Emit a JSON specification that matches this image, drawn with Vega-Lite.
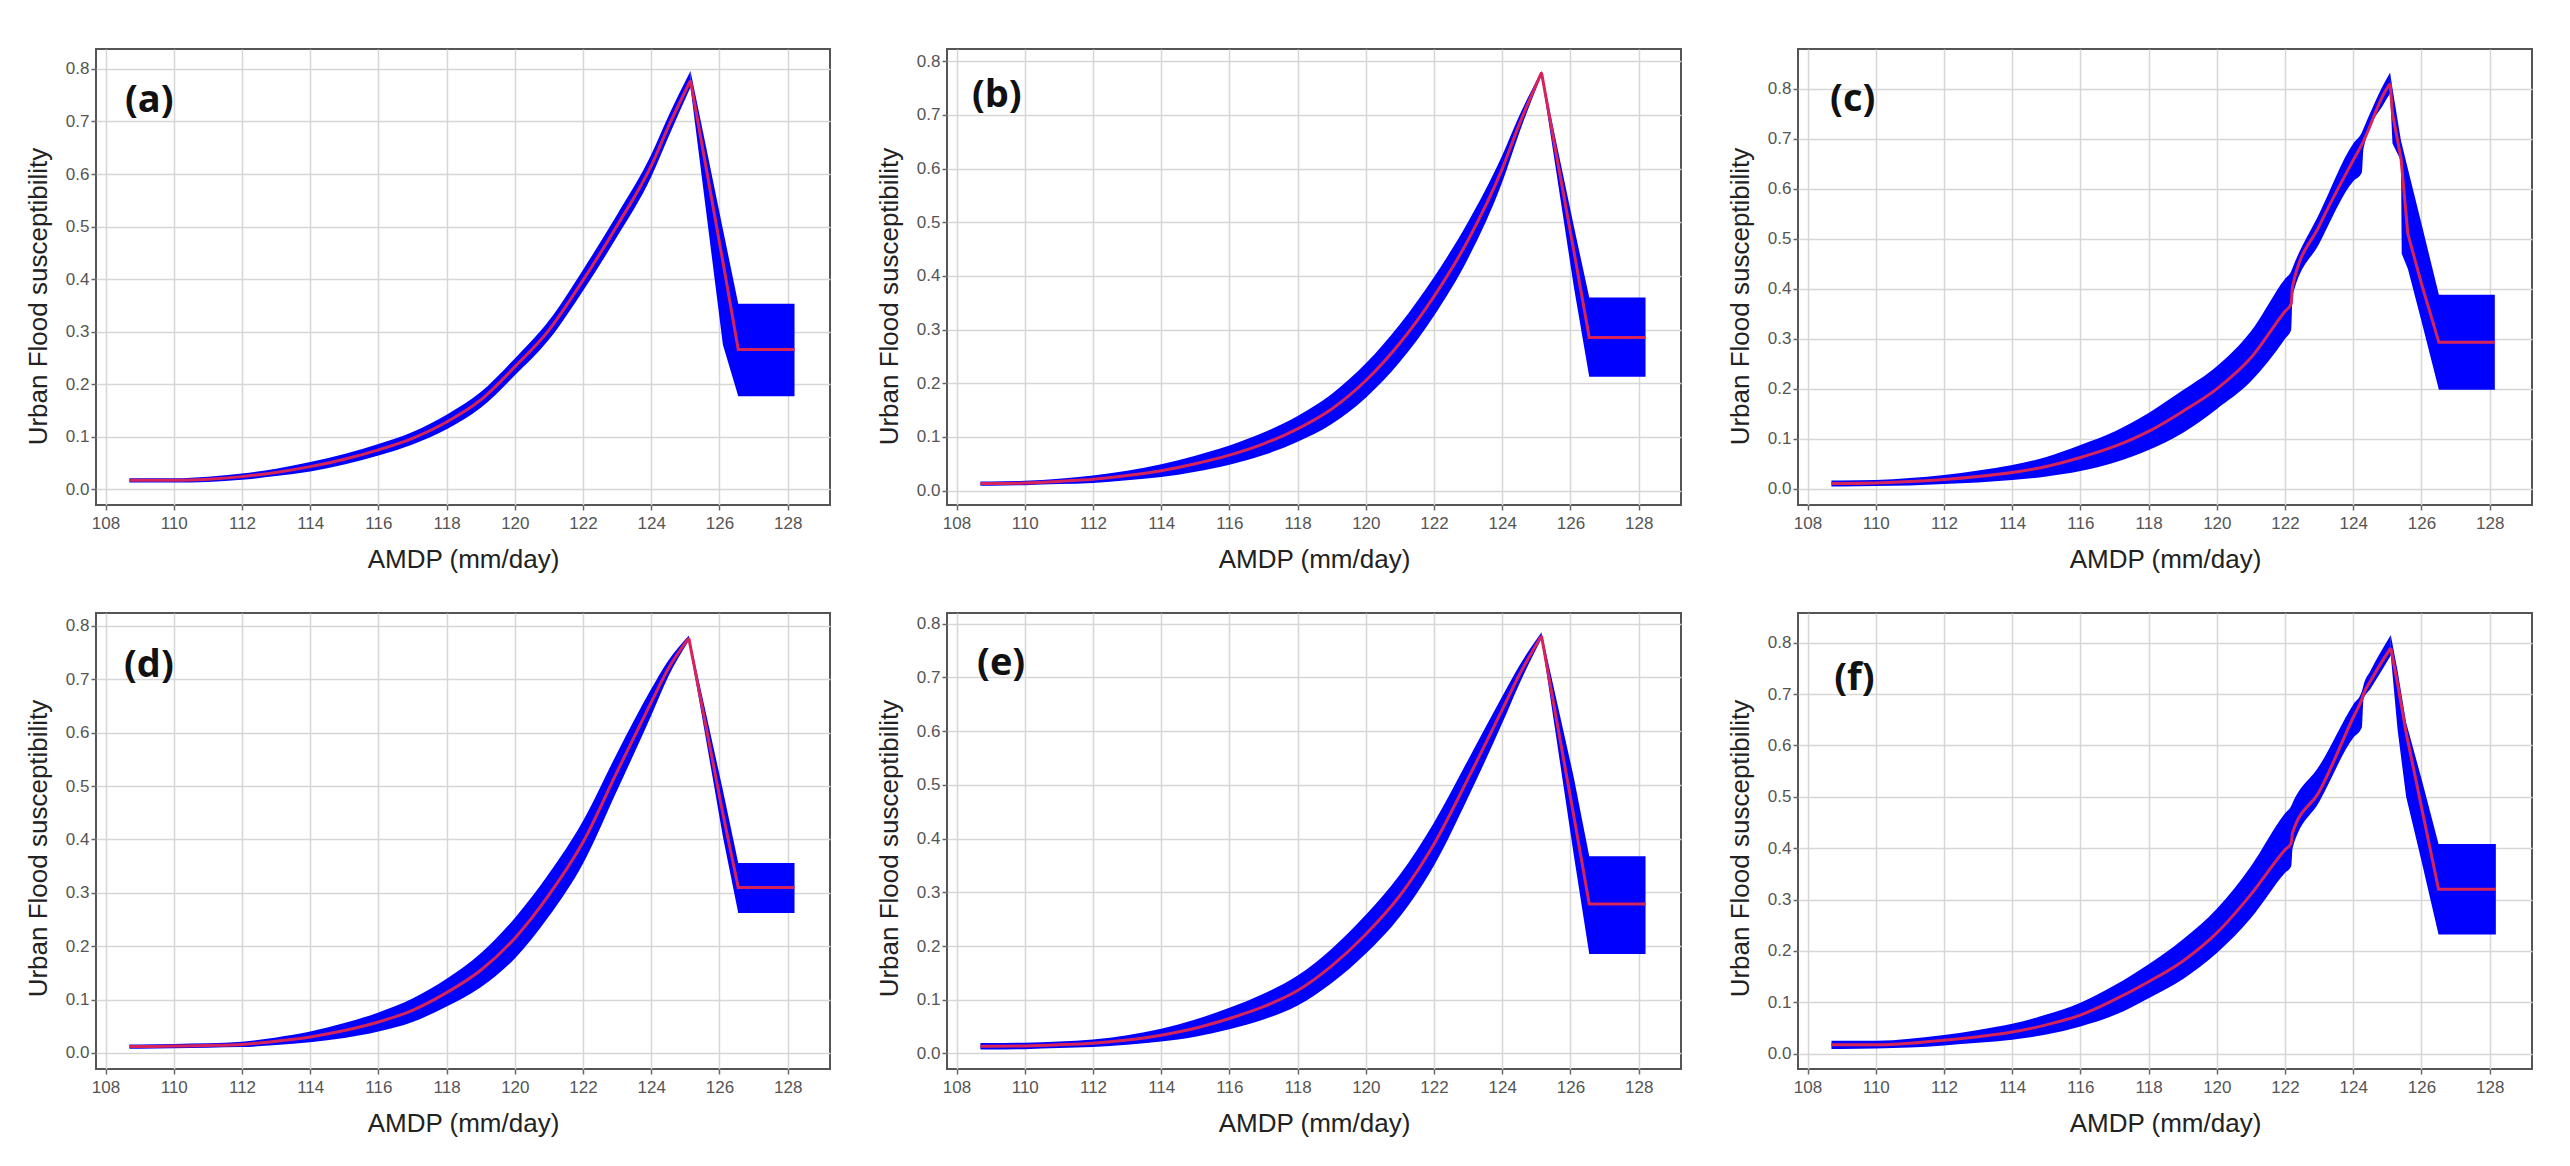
{
  "$schema": "https://vega.github.io/schema/vega-lite/v6.json",
  "background": "white",
  "padding": {"left": 24, "top": 48, "right": 5, "bottom": 5},
  "config": {
    "view": {"stroke": "#555555", "strokeWidth": 2},
    "axis": {"gridColor": "#d6d6d6", "gridWidth": 1.5, "domain": false, "tickColor": "#666666", "tickSize": 5, "tickWidth": 1.5, "labelColor": "#555555", "labelFont": "Liberation Sans", "labelFontSize": 17, "titleFont": "Liberation Sans", "titleFontSize": 26, "titleFontWeight": "normal", "titleColor": "#222222"},
    "axisX": {"labelPadding": 5, "titlePadding": 15},
    "axisY": {"labelPadding": 2, "titlePadding": 14},
    "area": {"color": "#0000ff"},
    "line": {"color": "#d6245a", "strokeWidth": 3},
    "text": {"font": "Open Sans", "fontWeight": "bold", "fontSize": 38, "align": "left", "baseline": "middle", "color": "#111111"}
  },
  "data": {"values": [
    {"p":"a","x":108.7,"lo":0.013,"mid":0.017,"hi":0.021},
    {"p":"a","x":109,"lo":0.013,"mid":0.017,"hi":0.021},
    {"p":"a","x":110,"lo":0.013,"mid":0.017,"hi":0.021},
    {"p":"a","x":111,"lo":0.014,"mid":0.019,"hi":0.024},
    {"p":"a","x":112,"lo":0.018,"mid":0.024,"hi":0.030},
    {"p":"a","x":113,"lo":0.025,"mid":0.032,"hi":0.039},
    {"p":"a","x":114,"lo":0.034,"mid":0.043,"hi":0.052},
    {"p":"a","x":115,"lo":0.047,"mid":0.057,"hi":0.067},
    {"p":"a","x":116,"lo":0.064,"mid":0.075,"hi":0.086},
    {"p":"a","x":117,"lo":0.085,"mid":0.097,"hi":0.109},
    {"p":"a","x":118,"lo":0.114,"mid":0.128,"hi":0.142},
    {"p":"a","x":119,"lo":0.155,"mid":0.170,"hi":0.185},
    {"p":"a","x":120,"lo":0.217,"mid":0.233,"hi":0.249},
    {"p":"a","x":121,"lo":0.285,"mid":0.303,"hi":0.321},
    {"p":"a","x":122,"lo":0.378,"mid":0.398,"hi":0.418},
    {"p":"a","x":123,"lo":0.481,"mid":0.502,"hi":0.523},
    {"p":"a","x":124,"lo":0.595,"mid":0.616,"hi":0.637},
    {"p":"a","x":124.5,"lo":0.670,"mid":0.690,"hi":0.710},
    {"p":"a","x":125.15,"lo":0.765,"mid":0.778,"hi":0.796},
    {"p":"a","x":125.6,"lo":0.533,"mid":0.615,"hi":0.654},
    {"p":"a","x":126.1,"lo":0.275,"mid":0.433,"hi":0.495},
    {"p":"a","x":126.55,"lo":0.177,"mid":0.266,"hi":0.353},
    {"p":"a","x":128.2,"lo":0.177,"mid":0.266,"hi":0.353},

    {"p":"b","x":108.7,"lo":0.009,"mid":0.013,"hi":0.017},
    {"p":"b","x":109,"lo":0.009,"mid":0.013,"hi":0.017},
    {"p":"b","x":110,"lo":0.010,"mid":0.014,"hi":0.018},
    {"p":"b","x":111,"lo":0.012,"mid":0.017,"hi":0.022},
    {"p":"b","x":112,"lo":0.014,"mid":0.021,"hi":0.028},
    {"p":"b","x":113,"lo":0.019,"mid":0.028,"hi":0.037},
    {"p":"b","x":114,"lo":0.025,"mid":0.037,"hi":0.049},
    {"p":"b","x":115,"lo":0.035,"mid":0.050,"hi":0.065},
    {"p":"b","x":116,"lo":0.048,"mid":0.066,"hi":0.084},
    {"p":"b","x":117,"lo":0.066,"mid":0.087,"hi":0.108},
    {"p":"b","x":118,"lo":0.091,"mid":0.115,"hi":0.139},
    {"p":"b","x":119,"lo":0.124,"mid":0.152,"hi":0.180},
    {"p":"b","x":120,"lo":0.173,"mid":0.205,"hi":0.237},
    {"p":"b","x":121,"lo":0.240,"mid":0.275,"hi":0.310},
    {"p":"b","x":122,"lo":0.326,"mid":0.362,"hi":0.398},
    {"p":"b","x":123,"lo":0.433,"mid":0.467,"hi":0.501},
    {"p":"b","x":124,"lo":0.575,"mid":0.600,"hi":0.625},
    {"p":"b","x":124.5,"lo":0.667,"mid":0.683,"hi":0.699},
    {"p":"b","x":125.15,"lo":0.774,"mid":0.779,"hi":0.782},
    {"p":"b","x":125.6,"lo":0.587,"mid":0.621,"hi":0.644},
    {"p":"b","x":126.1,"lo":0.379,"mid":0.446,"hi":0.492},
    {"p":"b","x":126.55,"lo":0.212,"mid":0.285,"hi":0.360},
    {"p":"b","x":128.2,"lo":0.212,"mid":0.285,"hi":0.360},

    {"p":"c","x":108.7,"lo":0.005,"mid":0.011,"hi":0.017},
    {"p":"c","x":109,"lo":0.005,"mid":0.011,"hi":0.017},
    {"p":"c","x":110,"lo":0.006,"mid":0.012,"hi":0.018},
    {"p":"c","x":111,"lo":0.007,"mid":0.015,"hi":0.022},
    {"p":"c","x":112,"lo":0.010,"mid":0.019,"hi":0.028},
    {"p":"c","x":113,"lo":0.013,"mid":0.025,"hi":0.037},
    {"p":"c","x":114,"lo":0.018,"mid":0.033,"hi":0.048},
    {"p":"c","x":115,"lo":0.025,"mid":0.045,"hi":0.064},
    {"p":"c","x":116,"lo":0.036,"mid":0.063,"hi":0.088},
    {"p":"c","x":117,"lo":0.053,"mid":0.085,"hi":0.115},
    {"p":"c","x":118,"lo":0.078,"mid":0.115,"hi":0.152},
    {"p":"c","x":119,"lo":0.112,"mid":0.155,"hi":0.197},
    {"p":"c","x":120,"lo":0.160,"mid":0.200,"hi":0.245},
    {"p":"c","x":121,"lo":0.215,"mid":0.262,"hi":0.315},
    {"p":"c","x":122,"lo":0.300,"mid":0.355,"hi":0.420},
    {"p":"c","x":122.18,"lo":0.318,"mid":0.370,"hi":0.435},
    {"p":"c","x":122.22,"lo":0.385,"mid":0.405,"hi":0.442},
    {"p":"c","x":123,"lo":0.490,"mid":0.525,"hi":0.550},
    {"p":"c","x":124,"lo":0.615,"mid":0.657,"hi":0.690},
    {"p":"c","x":124.25,"lo":0.632,"mid":0.688,"hi":0.712},
    {"p":"c","x":124.3,"lo":0.680,"mid":0.695,"hi":0.720},
    {"p":"c","x":124.9,"lo":0.770,"mid":0.790,"hi":0.810},
    {"p":"c","x":125.08,"lo":0.790,"mid":0.810,"hi":0.832},
    {"p":"c","x":125.15,"lo":0.690,"mid":0.750,"hi":0.800},
    {"p":"c","x":125.4,"lo":0.655,"mid":0.660,"hi":0.695},
    {"p":"c","x":125.42,"lo":0.470,"mid":0.645,"hi":0.690},
    {"p":"c","x":125.6,"lo":0.440,"mid":0.510,"hi":0.640},
    {"p":"c","x":126.0,"lo":0.335,"mid":0.410,"hi":0.530},
    {"p":"c","x":126.51,"lo":0.198,"mid":0.293,"hi":0.388},
    {"p":"c","x":128.15,"lo":0.198,"mid":0.293,"hi":0.388},

    {"p":"d","x":108.7,"lo":0.008,"mid":0.012,"hi":0.016},
    {"p":"d","x":109,"lo":0.008,"mid":0.012,"hi":0.016},
    {"p":"d","x":110,"lo":0.009,"mid":0.013,"hi":0.017},
    {"p":"d","x":111,"lo":0.010,"mid":0.014,"hi":0.018},
    {"p":"d","x":112,"lo":0.011,"mid":0.016,"hi":0.021},
    {"p":"d","x":113,"lo":0.015,"mid":0.022,"hi":0.029},
    {"p":"d","x":114,"lo":0.020,"mid":0.030,"hi":0.040},
    {"p":"d","x":115,"lo":0.028,"mid":0.042,"hi":0.056},
    {"p":"d","x":116,"lo":0.040,"mid":0.058,"hi":0.076},
    {"p":"d","x":117,"lo":0.058,"mid":0.080,"hi":0.102},
    {"p":"d","x":118,"lo":0.087,"mid":0.113,"hi":0.139},
    {"p":"d","x":119,"lo":0.123,"mid":0.155,"hi":0.187},
    {"p":"d","x":120,"lo":0.177,"mid":0.215,"hi":0.253},
    {"p":"d","x":121,"lo":0.256,"mid":0.296,"hi":0.336},
    {"p":"d","x":122,"lo":0.355,"mid":0.395,"hi":0.435},
    {"p":"d","x":123,"lo":0.492,"mid":0.527,"hi":0.562},
    {"p":"d","x":124,"lo":0.632,"mid":0.657,"hi":0.682},
    {"p":"d","x":124.5,"lo":0.705,"mid":0.720,"hi":0.735},
    {"p":"d","x":125.1,"lo":0.772,"mid":0.777,"hi":0.782},
    {"p":"d","x":125.6,"lo":0.589,"mid":0.613,"hi":0.637},
    {"p":"d","x":126.1,"lo":0.405,"mid":0.448,"hi":0.492},
    {"p":"d","x":126.55,"lo":0.262,"mid":0.310,"hi":0.356},
    {"p":"d","x":128.2,"lo":0.262,"mid":0.310,"hi":0.356},

    {"p":"e","x":108.7,"lo":0.0075,"mid":0.0135,"hi":0.0195},
    {"p":"e","x":109,"lo":0.0075,"mid":0.0135,"hi":0.0195},
    {"p":"e","x":110,"lo":0.008,"mid":0.014,"hi":0.020},
    {"p":"e","x":111,"lo":0.010,"mid":0.016,"hi":0.022},
    {"p":"e","x":112,"lo":0.012,"mid":0.019,"hi":0.026},
    {"p":"e","x":113,"lo":0.016,"mid":0.025,"hi":0.034},
    {"p":"e","x":114,"lo":0.022,"mid":0.034,"hi":0.046},
    {"p":"e","x":115,"lo":0.031,"mid":0.047,"hi":0.063},
    {"p":"e","x":116,"lo":0.045,"mid":0.065,"hi":0.085},
    {"p":"e","x":117,"lo":0.063,"mid":0.087,"hi":0.111},
    {"p":"e","x":118,"lo":0.089,"mid":0.117,"hi":0.145},
    {"p":"e","x":119,"lo":0.131,"mid":0.163,"hi":0.195},
    {"p":"e","x":120,"lo":0.186,"mid":0.222,"hi":0.258},
    {"p":"e","x":121,"lo":0.255,"mid":0.294,"hi":0.333},
    {"p":"e","x":122,"lo":0.350,"mid":0.390,"hi":0.430},
    {"p":"e","x":123,"lo":0.477,"mid":0.512,"hi":0.547},
    {"p":"e","x":124,"lo":0.615,"mid":0.640,"hi":0.665},
    {"p":"e","x":124.5,"lo":0.688,"mid":0.705,"hi":0.722},
    {"p":"e","x":125.15,"lo":0.772,"mid":0.777,"hi":0.784},
    {"p":"e","x":125.6,"lo":0.581,"mid":0.618,"hi":0.655},
    {"p":"e","x":126.1,"lo":0.368,"mid":0.441,"hi":0.513},
    {"p":"e","x":126.55,"lo":0.185,"mid":0.278,"hi":0.367},
    {"p":"e","x":128.2,"lo":0.185,"mid":0.278,"hi":0.367},

    {"p":"f","x":108.7,"lo":0.009,"mid":0.017,"hi":0.025},
    {"p":"f","x":109,"lo":0.009,"mid":0.017,"hi":0.025},
    {"p":"f","x":110,"lo":0.010,"mid":0.017,"hi":0.025},
    {"p":"f","x":111,"lo":0.012,"mid":0.020,"hi":0.029},
    {"p":"f","x":112,"lo":0.016,"mid":0.026,"hi":0.036},
    {"p":"f","x":113,"lo":0.021,"mid":0.033,"hi":0.046},
    {"p":"f","x":114,"lo":0.027,"mid":0.042,"hi":0.058},
    {"p":"f","x":115,"lo":0.037,"mid":0.056,"hi":0.076},
    {"p":"f","x":116,"lo":0.053,"mid":0.075,"hi":0.099},
    {"p":"f","x":117,"lo":0.075,"mid":0.105,"hi":0.133},
    {"p":"f","x":118,"lo":0.108,"mid":0.140,"hi":0.174},
    {"p":"f","x":119,"lo":0.145,"mid":0.180,"hi":0.222},
    {"p":"f","x":120,"lo":0.196,"mid":0.235,"hi":0.282},
    {"p":"f","x":121,"lo":0.264,"mid":0.310,"hi":0.365},
    {"p":"f","x":122,"lo":0.352,"mid":0.397,"hi":0.468},
    {"p":"f","x":122.18,"lo":0.365,"mid":0.410,"hi":0.482},
    {"p":"f","x":122.22,"lo":0.400,"mid":0.430,"hi":0.488},
    {"p":"f","x":123,"lo":0.490,"mid":0.510,"hi":0.560},
    {"p":"f","x":124,"lo":0.615,"mid":0.655,"hi":0.680},
    {"p":"f","x":124.25,"lo":0.635,"mid":0.690,"hi":0.705},
    {"p":"f","x":124.3,"lo":0.690,"mid":0.700,"hi":0.718},
    {"p":"f","x":124.5,"lo":0.710,"mid":0.725,"hi":0.745},
    {"p":"f","x":125.1,"lo":0.775,"mid":0.790,"hi":0.815},
    {"p":"f","x":125.3,"lo":0.630,"mid":0.720,"hi":0.745},
    {"p":"f","x":125.55,"lo":0.500,"mid":0.625,"hi":0.645},
    {"p":"f","x":126.0,"lo":0.375,"mid":0.480,"hi":0.535},
    {"p":"f","x":126.5,"lo":0.232,"mid":0.320,"hi":0.408},
    {"p":"f","x":128.18,"lo":0.232,"mid":0.320,"hi":0.408}
  ]},
  "spacing": 39,
  "vconcat": [
    {"spacing": 44, "hconcat": [
      {"width": 734, "height": 456, "layer": [
        {"transform": [{"filter": "datum.p === 'a' && datum.x <= 125.15"}], "mark": {"type": "area", "interpolate": "monotone"},
         "encoding": {"x": {"field": "x", "type": "quantitative", "scale": {"domain": [107.72, 129.24], "nice": false, "zero": false}, "axis": {"title": "AMDP (mm/day)", "values": [108,110,112,114,116,118,120,122,124,126,128], "format": "d"}},
                      "y": {"field": "lo", "type": "quantitative", "scale": {"domain": [-0.030, 0.838], "nice": false, "zero": false}, "axis": {"title": "Urban Flood susceptibility", "values": [0,0.1,0.2,0.3,0.4,0.5,0.6,0.7,0.8], "format": ".1f", "titleY": 247}},
                      "y2": {"field": "hi"}}},
        {"transform": [{"filter": "datum.p === 'a' && datum.x >= 125.15"}], "mark": {"type": "area"},
         "encoding": {"x": {"field": "x", "type": "quantitative"}, "y": {"field": "lo", "type": "quantitative"}, "y2": {"field": "hi"}}},
        {"transform": [{"filter": "datum.p === 'a' && datum.x <= 125.15"}], "mark": {"type": "line", "interpolate": "monotone"},
         "encoding": {"x": {"field": "x", "type": "quantitative"}, "y": {"field": "mid", "type": "quantitative"}}},
        {"transform": [{"filter": "datum.p === 'a' && datum.x >= 125.15"}], "mark": {"type": "line"},
         "encoding": {"x": {"field": "x", "type": "quantitative"}, "y": {"field": "mid", "type": "quantitative"}}},
        {"data": {"values": [{"label": "(a)"}]}, "mark": {"type": "text"},
         "encoding": {"x": {"datum": 108.57, "type": "quantitative"}, "y": {"datum": 0.739, "type": "quantitative"}, "text": {"field": "label"}}}
      ]},
      {"width": 734, "height": 456, "layer": [
        {"transform": [{"filter": "datum.p === 'b' && datum.x <= 125.15"}], "mark": {"type": "area", "interpolate": "monotone"},
         "encoding": {"x": {"field": "x", "type": "quantitative", "scale": {"domain": [107.72, 129.24], "nice": false, "zero": false}, "axis": {"title": "AMDP (mm/day)", "values": [108,110,112,114,116,118,120,122,124,126,128], "format": "d"}},
                      "y": {"field": "lo", "type": "quantitative", "scale": {"domain": [-0.027, 0.823], "nice": false, "zero": false}, "axis": {"title": "Urban Flood susceptibility", "values": [0,0.1,0.2,0.3,0.4,0.5,0.6,0.7,0.8], "format": ".1f", "titleY": 247}},
                      "y2": {"field": "hi"}}},
        {"transform": [{"filter": "datum.p === 'b' && datum.x >= 125.15"}], "mark": {"type": "area"},
         "encoding": {"x": {"field": "x", "type": "quantitative"}, "y": {"field": "lo", "type": "quantitative"}, "y2": {"field": "hi"}}},
        {"transform": [{"filter": "datum.p === 'b' && datum.x <= 125.15"}], "mark": {"type": "line", "interpolate": "monotone"},
         "encoding": {"x": {"field": "x", "type": "quantitative"}, "y": {"field": "mid", "type": "quantitative"}}},
        {"transform": [{"filter": "datum.p === 'b' && datum.x >= 125.15"}], "mark": {"type": "line"},
         "encoding": {"x": {"field": "x", "type": "quantitative"}, "y": {"field": "mid", "type": "quantitative"}}},
        {"data": {"values": [{"label": "(b)"}]}, "mark": {"type": "text"},
         "encoding": {"x": {"datum": 108.45, "type": "quantitative"}, "y": {"datum": 0.735, "type": "quantitative"}, "text": {"field": "label"}}}
      ]},
      {"width": 734, "height": 456, "layer": [
        {"transform": [{"filter": "datum.p === 'c' && datum.x <= 125.08"}], "mark": {"type": "area", "interpolate": "monotone"},
         "encoding": {"x": {"field": "x", "type": "quantitative", "scale": {"domain": [107.72, 129.24], "nice": false, "zero": false}, "axis": {"title": "AMDP (mm/day)", "values": [108,110,112,114,116,118,120,122,124,126,128], "format": "d"}},
                      "y": {"field": "lo", "type": "quantitative", "scale": {"domain": [-0.032, 0.879], "nice": false, "zero": false}, "axis": {"title": "Urban Flood susceptibility", "values": [0,0.1,0.2,0.3,0.4,0.5,0.6,0.7,0.8], "format": ".1f", "titleY": 247}},
                      "y2": {"field": "hi"}}},
        {"transform": [{"filter": "datum.p === 'c' && datum.x >= 125.08"}], "mark": {"type": "area"},
         "encoding": {"x": {"field": "x", "type": "quantitative"}, "y": {"field": "lo", "type": "quantitative"}, "y2": {"field": "hi"}}},
        {"transform": [{"filter": "datum.p === 'c' && datum.x <= 125.08"}], "mark": {"type": "line", "interpolate": "monotone"},
         "encoding": {"x": {"field": "x", "type": "quantitative"}, "y": {"field": "mid", "type": "quantitative"}}},
        {"transform": [{"filter": "datum.p === 'c' && datum.x >= 125.08"}], "mark": {"type": "line"},
         "encoding": {"x": {"field": "x", "type": "quantitative"}, "y": {"field": "mid", "type": "quantitative"}}},
        {"data": {"values": [{"label": "(c)"}]}, "mark": {"type": "text"},
         "encoding": {"x": {"datum": 108.66, "type": "quantitative"}, "y": {"datum": 0.778, "type": "quantitative"}, "text": {"field": "label"}}}
      ]}
    ]},
    {"spacing": 44, "hconcat": [
      {"width": 734, "height": 456, "layer": [
        {"transform": [{"filter": "datum.p === 'd' && datum.x <= 125.1"}], "mark": {"type": "area", "interpolate": "monotone"},
         "encoding": {"x": {"field": "x", "type": "quantitative", "scale": {"domain": [107.72, 129.24], "nice": false, "zero": false}, "axis": {"title": "AMDP (mm/day)", "values": [108,110,112,114,116,118,120,122,124,126,128], "format": "d"}},
                      "y": {"field": "lo", "type": "quantitative", "scale": {"domain": [-0.030, 0.824], "nice": false, "zero": false}, "axis": {"title": "Urban Flood susceptibility", "values": [0,0.1,0.2,0.3,0.4,0.5,0.6,0.7,0.8], "format": ".1f", "titleY": 235}},
                      "y2": {"field": "hi"}}},
        {"transform": [{"filter": "datum.p === 'd' && datum.x >= 125.1"}], "mark": {"type": "area"},
         "encoding": {"x": {"field": "x", "type": "quantitative"}, "y": {"field": "lo", "type": "quantitative"}, "y2": {"field": "hi"}}},
        {"transform": [{"filter": "datum.p === 'd' && datum.x <= 125.1"}], "mark": {"type": "line", "interpolate": "monotone"},
         "encoding": {"x": {"field": "x", "type": "quantitative"}, "y": {"field": "mid", "type": "quantitative"}}},
        {"transform": [{"filter": "datum.p === 'd' && datum.x >= 125.1"}], "mark": {"type": "line"},
         "encoding": {"x": {"field": "x", "type": "quantitative"}, "y": {"field": "mid", "type": "quantitative"}}},
        {"data": {"values": [{"label": "(d)"}]}, "mark": {"type": "text"},
         "encoding": {"x": {"datum": 108.54, "type": "quantitative"}, "y": {"datum": 0.725, "type": "quantitative"}, "text": {"field": "label"}}}
      ]},
      {"width": 734, "height": 456, "layer": [
        {"transform": [{"filter": "datum.p === 'e' && datum.x <= 125.15"}], "mark": {"type": "area", "interpolate": "monotone"},
         "encoding": {"x": {"field": "x", "type": "quantitative", "scale": {"domain": [107.72, 129.24], "nice": false, "zero": false}, "axis": {"title": "AMDP (mm/day)", "values": [108,110,112,114,116,118,120,122,124,126,128], "format": "d"}},
                      "y": {"field": "lo", "type": "quantitative", "scale": {"domain": [-0.029, 0.820], "nice": false, "zero": false}, "axis": {"title": "Urban Flood susceptibility", "values": [0,0.1,0.2,0.3,0.4,0.5,0.6,0.7,0.8], "format": ".1f", "titleY": 235}},
                      "y2": {"field": "hi"}}},
        {"transform": [{"filter": "datum.p === 'e' && datum.x >= 125.15"}], "mark": {"type": "area"},
         "encoding": {"x": {"field": "x", "type": "quantitative"}, "y": {"field": "lo", "type": "quantitative"}, "y2": {"field": "hi"}}},
        {"transform": [{"filter": "datum.p === 'e' && datum.x <= 125.15"}], "mark": {"type": "line", "interpolate": "monotone"},
         "encoding": {"x": {"field": "x", "type": "quantitative"}, "y": {"field": "mid", "type": "quantitative"}}},
        {"transform": [{"filter": "datum.p === 'e' && datum.x >= 125.15"}], "mark": {"type": "line"},
         "encoding": {"x": {"field": "x", "type": "quantitative"}, "y": {"field": "mid", "type": "quantitative"}}},
        {"data": {"values": [{"label": "(e)"}]}, "mark": {"type": "text"},
         "encoding": {"x": {"datum": 108.6, "type": "quantitative"}, "y": {"datum": 0.725, "type": "quantitative"}, "text": {"field": "label"}}}
      ]},
      {"width": 734, "height": 456, "layer": [
        {"transform": [{"filter": "datum.p === 'f' && datum.x <= 125.1"}], "mark": {"type": "area", "interpolate": "monotone"},
         "encoding": {"x": {"field": "x", "type": "quantitative", "scale": {"domain": [107.72, 129.24], "nice": false, "zero": false}, "axis": {"title": "AMDP (mm/day)", "values": [108,110,112,114,116,118,120,122,124,126,128], "format": "d"}},
                      "y": {"field": "lo", "type": "quantitative", "scale": {"domain": [-0.030, 0.858], "nice": false, "zero": false}, "axis": {"title": "Urban Flood susceptibility", "values": [0,0.1,0.2,0.3,0.4,0.5,0.6,0.7,0.8], "format": ".1f", "titleY": 235}},
                      "y2": {"field": "hi"}}},
        {"transform": [{"filter": "datum.p === 'f' && datum.x >= 125.1"}], "mark": {"type": "area"},
         "encoding": {"x": {"field": "x", "type": "quantitative"}, "y": {"field": "lo", "type": "quantitative"}, "y2": {"field": "hi"}}},
        {"transform": [{"filter": "datum.p === 'f' && datum.x <= 125.1"}], "mark": {"type": "line", "interpolate": "monotone"},
         "encoding": {"x": {"field": "x", "type": "quantitative"}, "y": {"field": "mid", "type": "quantitative"}}},
        {"transform": [{"filter": "datum.p === 'f' && datum.x >= 125.1"}], "mark": {"type": "line"},
         "encoding": {"x": {"field": "x", "type": "quantitative"}, "y": {"field": "mid", "type": "quantitative"}}},
        {"data": {"values": [{"label": "(f)"}]}, "mark": {"type": "text"},
         "encoding": {"x": {"datum": 108.78, "type": "quantitative"}, "y": {"datum": 0.73, "type": "quantitative"}, "text": {"field": "label"}}}
      ]}
    ]}
  ]
}
